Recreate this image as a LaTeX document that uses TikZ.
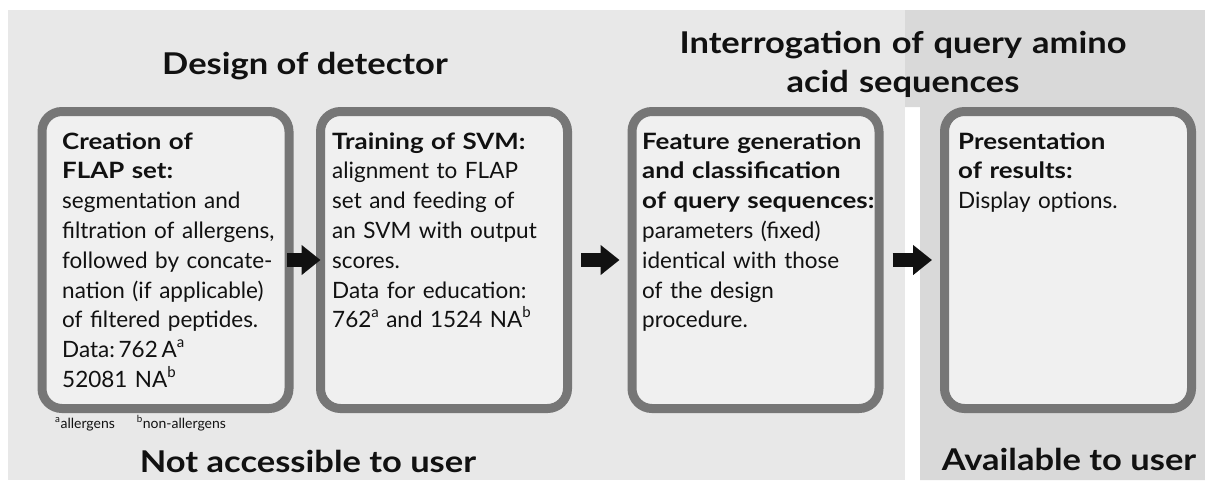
\documentclass[tikz,border=0pt]{standalone}
\usepackage{fontspec}
\setmainfont{Lato}[BoldFeatures={FakeStretch=1.15}]
\usetikzlibrary{arrows.meta}
\definecolor{bglight}{HTML}{E8E8E8}
\definecolor{bgdark}{HTML}{D9D9D9}
\definecolor{boxfill}{HTML}{F0F0F0}
\definecolor{boxline}{HTML}{767676}
\definecolor{ink}{HTML}{111111}
\newcommand\supx[1]{\raisebox{0.46em}{\fontsize{15}{15}\selectfont #1}}
\begin{document}
\begin{tikzpicture}[x=1pt,y=-1pt,
 stagebox/.style={draw=boxline, fill=boxfill, line width=9pt, rounded corners=20pt, minimum width=247pt, minimum height=297pt, inner sep=0pt, outer sep=0pt},
 boxtext/.style={anchor=north west, inner sep=0pt, text width=300pt, align=left, font=\fontsize{22.5}{29.8}\selectfont, text=ink},
 title/.style={inner sep=0pt, font=\fontsize{30}{39}\selectfont\bfseries, text=ink},
 flow/.style={line width=14pt, -{Triangle[length=19pt,width=29pt]}, draw=ink}
]
\useasboundingbox (0,0) rectangle (1205,480);
\fill[white] (0,0) rectangle (1205,480);
\fill[bglight] (8,10) rectangle (905,480);
\fill[bgdark] (905,10) -- (1205,10) -- (1205,480) -- (920,480) -- (920,107) -- (905,107) -- cycle;

\node[stagebox] (b1) at (165.5,260) {};
\node[stagebox] (b2) at (444,260) {};
\node[stagebox] (b3) at (755.5,260) {};
\node[stagebox] (b4) at (1068,260) {};

\node[boxtext] (t1) at (62,128.1) {\strut\textbf{Creation of\\FLAP set:}\\segmentation and\\filtration of allergens,\\followed by concate-\\nation (if applicable)\\of filtered peptides.\\Data:\,762\,A\supx{a}\\52081 NA\supx{b}};
\node[boxtext] (t2) at (332,128.1) {\strut\textbf{Training of SVM:}\\alignment to FLAP\\set and feeding of\\an SVM with output\\scores.\\Data for education:\\762\supx{a} and 1524 NA\supx{b}};
\node[boxtext] (t3) at (642,128.1) {\strut\textbf{Feature generation\\and classification\\of query sequences:}\\parameters (fixed)\\identical with those\\of the design\\procedure.};
\node[boxtext] (t4) at (958,128.1) {\strut\textbf{Presentation\\of results:}\\Display options.};

\draw[flow] ([xshift=-2pt]b1.east) -- (b2.west);
\draw[flow] ([xshift=13.5pt]b2.east) -- ([xshift=-12.5pt]b3.west);
\draw[flow] ([xshift=13.5pt]b3.east) -- ([xshift=-12.5pt]b4.west);

\node[anchor=base west, inner sep=0pt, font=\fontsize{14}{16}\selectfont, text=ink] (fn) at (55,428) {\textsuperscript{a}allergens\hspace{22pt}\textsuperscript{b}non-allergens};

\node[title, anchor=base] (h1) at (305,74) {Design of detector};
\node[title, anchor=base] (h2) at (308,472) {Not accessible to user};
\node[title, anchor=north, text width=500pt, align=center] (h3) at (903,25.7) {\strut Interrogation of query amino\\acid sequences};
\node[title, anchor=base] (h4) at (1069,470) {Available to user};
\end{tikzpicture}
\end{document}
